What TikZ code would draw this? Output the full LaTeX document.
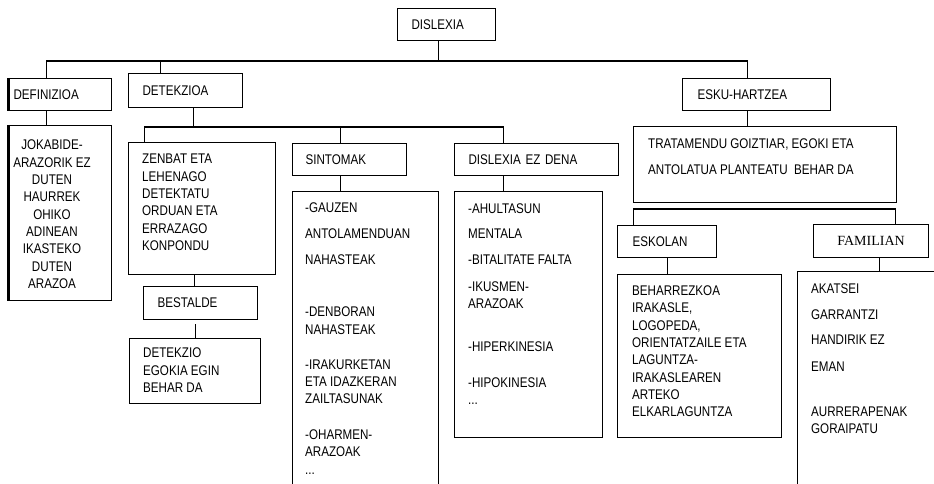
\documentclass[tikz,border=0pt]{standalone}
\usepackage{fontspec}
\setmainfont{Liberation Sans}[FakeStretch=0.83]
\newfontfamily\serifcaps{Liberation Serif}
\begin{document}
\begin{tikzpicture}[x=1bp, y=-1bp,
  every node/.style={font=\fontsize{14bp}{17.3bp}\selectfont, inner sep=0pt},
  frame/.style={draw, line width=1.1bp, anchor=north west, inner sep=0pt},
  tag/.style={frame, align=left},
  body/.style={anchor=north west, align=left},
  link/.style={line width=1.1bp}]
\useasboundingbox (0,0) rectangle (934,484);
\clip (0,0) rectangle (934,484);

% ---- single-line boxes (text inside) ----
\node[tag, text width=70bp,  inner xsep=14bp, minimum height=32bp] (dislexia)   at (397,8)   {DISLEXIA};
\node[tag, text width=94bp,  inner xsep=4bp,  minimum height=32bp] (definizioa) at (9,78)    {DEFINIZIOA};
\node[tag, text width=86bp,  inner xsep=14bp, minimum height=34bp] (detekzioa)  at (128,73)  {DETEKZIOA};
\node[tag, text width=118bp, inner xsep=15bp, minimum height=32bp] (esku)       at (682,78)  {ESKU-HARTZEA};
\node[tag, text width=88bp,  inner xsep=13bp, minimum height=32bp] (sintomak)   at (292,143) {SINTOMAK};
\node[tag, text width=136bp, inner xsep=14bp, minimum height=32bp] (ezdena)     at (454,143) {DISLEXIA EZ DENA};
\node[tag, text width=86bp,  inner xsep=14bp, minimum height=33bp] (bestalde)   at (143,286) {BESTALDE};
\node[tag, text width=69bp,  inner xsep=15bp, minimum height=32bp] (eskolan)    at (617,225) {ESKOLAN};
\node[tag, text width=115bp, inner xsep=0bp,  minimum height=33bp, align=center,
      font=\serifcaps\fontsize{14bp}{17bp}\selectfont] (familian) at (813,224) {FAMILIAN};

% ---- content frames ----
\node[frame, minimum width=102bp, minimum height=175bp] (jokabide)    at (9,125)   {};
\node[frame, minimum width=147bp, minimum height=132bp] (zenbat)      at (128,142) {};
\node[frame, minimum width=131bp, minimum height=65bp]  (detekzio)    at (129,338) {};
\node[frame, minimum width=146bp, minimum height=330bp] (sintomalist) at (292,191) {};
\node[frame, minimum width=148bp, minimum height=246bp] (ezdenalist)  at (454,191) {};
\node[frame, minimum width=263bp, minimum height=76bp]  (tratamendu)  at (633,126) {};
\node[frame, minimum width=164bp, minimum height=163bp] (beharrezkoa) at (617,274) {};
\node[frame, minimum width=200bp, minimum height=250bp] (akatsei)     at (797,271) {};

% heavier left rules on the definition column
\draw[line width=2.7bp] ([xshift=-0.3bp]definizioa.north west) -- ([xshift=-0.3bp]definizioa.south west);
\draw[line width=2.7bp] ([xshift=-0.3bp]jokabide.north west) -- ([xshift=-0.3bp]jokabide.south west);

% ---- frame texts ----
\node[anchor=north, align=center] (jokabidetxt) at (52,140)
  {JOKABIDE-\\ARAZORIK EZ\\DUTEN\\HAURREK\\OHIKO\\ADINEAN\\IKASTEKO\\DUTEN\\ARAZOA};
\node[body] (zenbattxt) at (142,154)
  {ZENBAT ETA\\LEHENAGO\\DETEKTATU\\ORDUAN ETA\\ERRAZAGO\\KONPONDU};
\node[body] (detekziotxt) at (143,348)
  {DETEKZIO\\EGOKIA EGIN\\BEHAR DA};
\node[body] (sintomatxt) at (305,202.3)
  {-GAUZEN\\[8.9bp]ANTOLAMENDUAN\\[8.9bp]NAHASTEAK\\[35bp]-DENBORAN\\NAHASTEAK\\[17.6bp]%
   -IRAKURKETAN\\ETA IDAZKERAN\\ZAILTASUNAK\\[18.6bp]-OHARMEN-\\ARAZOAK\\...};
\node[body] (ezdenatxt) at (468,203.3)
  {-AHULTASUN\\[8.4bp]MENTALA\\[8.7bp]-BITALITATE FALTA\\[9.4bp]-IKUSMEN-\\ARAZOAK\\[25.7bp]%
   -HIPERKINESIA\\[18.1bp]-HIPOKINESIA\\...};
\node[body] (tratamendutxt) at (648,138.3)
  {TRATAMENDU GOIZTIAR, EGOKI ETA\\[8.7bp]ANTOLATUA PLANTEATU~~BEHAR DA};
\node[body] (beharrezkoatxt) at (632,285.7)
  {BEHARREZKOA\\IRAKASLE,\\LOGOPEDA,\\ORIENTATZAILE ETA\\LAGUNTZA-\\IRAKASLEAREN\\ARTEKO\\ELKARLAGUNTZA};
\node[body] (akatseitxt) at (811,283.3)
  {AKATSEI\\[9.4bp]GARRANTZI\\[7.7bp]HANDIRIK EZ\\[9.4bp]EMAN\\[27.7bp]AURRERAPENAK\\GORAIPATU};

% ---- connectors ----
% top level
\draw[link] ([xshift=-8bp]dislexia.south) -- ++(0,21);
\draw[link] ([xshift=-14bp]definizioa.north) -- ++(0,-17) -| ([xshift=-9bp]esku.north);
\draw[link] ([xshift=-25bp]detekzioa.north) -- ++(0,-12);
\draw[link] ([xshift=-14bp]definizioa.south) -- ([xshift=-14bp]definizioa.south |- jokabide.north);

% detection branch
\draw[link] ([xshift=8bp]detekzioa.south) -- ++(0,20);
\draw[link] ([xshift=-57.5bp]zenbat.north) -- ++(0,-15) -| ([xshift=-33bp]ezdena.north);
\draw[link] ([xshift=-9bp]sintomak.north) -- ++(0,-16);
\draw[link] ([xshift=-7.5bp]zenbat.south) -- ([xshift=-7.5bp]zenbat.south |- bestalde.north);
\draw[link, shorten <=4bp] ([xshift=-5bp]bestalde.south) -- ([xshift=-5bp]bestalde.south |- detekzio.north);
\draw[link] ([xshift=-9bp]sintomak.south) -- ([xshift=-9bp]sintomak.south |- sintomalist.north);
\draw[link] ([xshift=-33bp]ezdena.south) -- ([xshift=-33bp]ezdena.south |- ezdenalist.north);

% intervention branch
\draw[link] ([xshift=-9bp]esku.south) -- ([xshift=-9bp]esku.south |- tratamendu.north);
\draw[link] ([xshift=-33.5bp]eskolan.north) -- ++(0,-16) -| ([xshift=24.5bp]familian.north);
\draw[link] (eskolan.south) -- (eskolan.south |- beharrezkoa.north);
\draw[link] ([xshift=8.5bp]familian.south) -- ([xshift=8.5bp]familian.south |- akatsei.north);
\end{tikzpicture}
\end{document}
